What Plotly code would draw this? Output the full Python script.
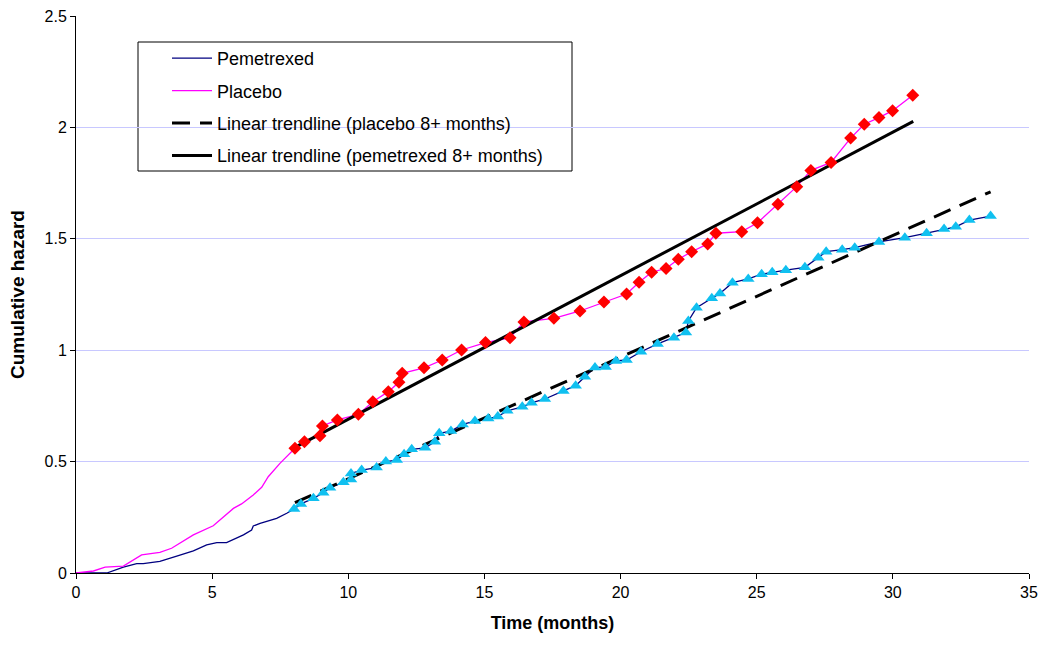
import plotly.graph_objects as go

# Pemetrexed: early part (line only) and 8+ months (with markers)
pem_early_x = [0, 1.13, 1.74, 2.23, 2.47, 3.08, 3.70, 4.31, 4.80, 5.17, 5.53, 6.15, 6.45, 6.51, 6.76, 7.37, 7.74]
pem_early_y = [0, 0.0, 0.026, 0.042, 0.042, 0.052, 0.076, 0.099, 0.126, 0.136, 0.136, 0.171, 0.193, 0.211, 0.223, 0.245, 0.268]
pem_x = [8.01, 8.26, 8.72, 9.08, 9.33, 9.82, 10.10, 10.10, 10.49, 11.04, 11.38, 11.78, 12.05, 12.33,
         12.82, 13.18, 13.34, 13.77, 14.20, 14.65, 15.14, 15.49, 15.84, 16.39, 16.73, 17.22, 17.90,
         18.35, 18.69, 19.06, 19.45, 19.83, 20.22, 20.75, 21.36, 21.96, 22.40, 22.49, 22.79, 23.35,
         23.65, 24.11, 24.69, 25.18, 25.57, 26.07, 26.77, 27.26, 27.55, 28.14, 28.60, 29.49, 30.44,
         31.24, 31.88, 32.31, 32.81, 33.59]
pem_y = [0.287, 0.310, 0.335, 0.360, 0.383, 0.407, 0.420, 0.447, 0.462, 0.473, 0.500, 0.507, 0.533, 0.555,
         0.562, 0.589, 0.627, 0.637, 0.667, 0.682, 0.694, 0.702, 0.728, 0.746, 0.764, 0.781, 0.817,
         0.841, 0.881, 0.922, 0.925, 0.952, 0.956, 0.993, 1.028, 1.056, 1.079, 1.131, 1.191, 1.233,
         1.255, 1.303, 1.320, 1.341, 1.350, 1.359, 1.372, 1.415, 1.442, 1.451, 1.460, 1.486, 1.505,
         1.525, 1.544, 1.554, 1.584, 1.602]

# Placebo: early part (line only) and 8+ months (with markers)
pla_early_x = [0, 0.64, 1.07, 1.74, 2.41, 3.08, 3.51, 4.31, 5.04, 5.78, 6.08, 6.51, 6.82, 7.06, 7.49, 7.74]
pla_early_y = [0, 0.009, 0.026, 0.031, 0.081, 0.093, 0.111, 0.171, 0.212, 0.290, 0.310, 0.350, 0.385, 0.432, 0.492, 0.525]
pla_x = [8.04, 8.39, 8.96, 9.05, 9.60, 10.37, 10.90, 11.47, 11.86, 11.98, 12.78, 13.45, 14.16, 15.04,
         15.94, 16.45, 17.55, 18.51, 19.39, 20.22, 20.68, 21.14, 21.67, 22.12, 22.61, 23.20, 23.50,
         24.45, 25.03, 25.78, 26.47, 26.99, 27.73, 28.45, 28.95, 29.49, 29.99, 30.73]
pla_y = [0.560, 0.589, 0.616, 0.660, 0.687, 0.712, 0.769, 0.814, 0.856, 0.896, 0.921, 0.956, 1.001, 1.034,
         1.056, 1.127, 1.143, 1.176, 1.216, 1.252, 1.305, 1.350, 1.367, 1.408, 1.442, 1.477, 1.525,
         1.532, 1.572, 1.655, 1.734, 1.807, 1.843, 1.952, 2.014, 2.044, 2.075, 2.144]

# Trendline endpoints
trend_dash_x = [8.04, 33.59]
trend_dash_y = [0.316, 1.711]
trend_solid_x = [8.04, 30.75]
trend_solid_y = [0.564, 2.027]

FONT = "Liberation Sans, Arial, sans-serif"

W, H = 1040, 646
PX0, PX1, PY0, PY1 = 76, 1029, 16, 573   # plot box on screen


def px(x):
    return (x - PX0) / (PX1 - PX0)


def py(y):
    return (PY1 - y) / (PY1 - PY0)


fig = go.Figure()

fig.add_trace(go.Scatter(x=pem_early_x + pem_x, y=pem_early_y + pem_y, mode="lines",
                         line=dict(color="#000080", width=1.3), name="Pemetrexed",
                         legendgroup="a"))
fig.add_trace(go.Scatter(x=pla_early_x + pla_x, y=pla_early_y + pla_y, mode="lines",
                         line=dict(color="#FF00FF", width=1.3), name="Placebo",
                         legendgroup="b"))
fig.add_trace(go.Scatter(x=trend_dash_x, y=trend_dash_y, mode="lines",
                         line=dict(color="black", width=3, dash="18px,10px"),
                         name="Linear trendline (placebo 8+ months)", legendgroup="c"))
fig.add_trace(go.Scatter(x=trend_solid_x, y=trend_solid_y, mode="lines",
                         line=dict(color="black", width=3),
                         name="Linear trendline (pemetrexed 8+ months)", legendgroup="d"))
fig.add_trace(go.Scatter(x=pla_x, y=pla_y, mode="markers",
                         marker=dict(symbol="diamond", color="#FF0000", size=10),
                         showlegend=False))
fig.add_trace(go.Scatter(x=pem_x, y=pem_y, mode="markers",
                         marker=dict(symbol="triangle-up", color="#10C0F0", size=11),
                         showlegend=False))

# legend frame
fig.add_shape(type="rect", xref="paper", yref="paper",
              x0=px(138), x1=px(572), y0=py(171), y1=py(42),
              line=dict(color="black", width=1), fillcolor="white", layer="below")

fig.update_layout(
    width=W, height=H,
    margin=dict(l=PX0, r=W - PX1, t=PY0, b=H - PY1, autoexpand=False),
    paper_bgcolor="white", plot_bgcolor="white",
    font=dict(family=FONT, size=16, color="black"),
    showlegend=True,
    legend=dict(x=px(167), y=py(40), xanchor="left", yanchor="top",
                bgcolor="rgba(0,0,0,0)", borderwidth=0, font=dict(size=18),
                tracegroupgap=6, traceorder="grouped", itemwidth=40),
    xaxis=dict(range=[0, 35], dtick=5, showgrid=False, zeroline=False,
               showline=True, linecolor="black", linewidth=1, automargin=False,
               ticks="outside", ticklen=5, tickcolor="black", ticklabeloverflow="allow",
               title=dict(text="<b>Time (months)</b>", font=dict(size=18), standoff=16)),
    yaxis=dict(range=[0, 2.5], dtick=0.5, showgrid=True, gridcolor="#C8C8FF", gridwidth=1,
               zeroline=False, showline=True, linecolor="black", linewidth=1, automargin=False,
               ticks="outside", ticklen=5, tickcolor="black", ticklabeloverflow="allow",
               title=dict(text="<b>Cumulative hazard</b>", font=dict(size=19), standoff=14)),
)

fig.write_html("out.html")
